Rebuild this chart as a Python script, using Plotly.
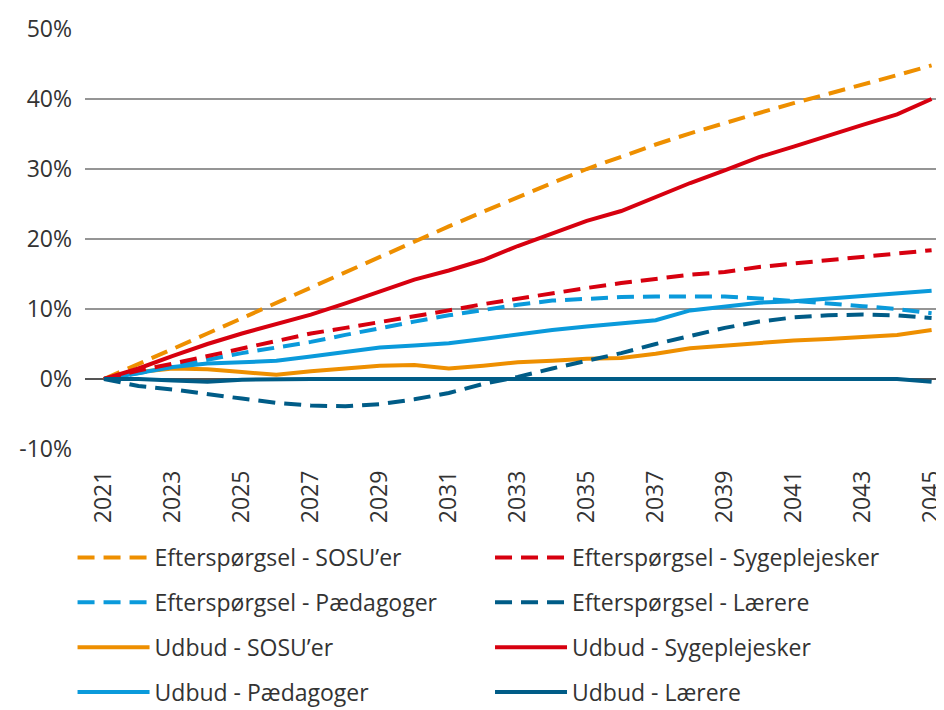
import plotly.graph_objects as go

years = list(range(2021, 2046))

eft_sosu = [0, 2.1, 4.3, 6.5, 8.7, 10.8, 13.0, 15.2, 17.4, 19.6, 21.8, 23.9, 26.0, 28.0, 30.0,
            31.8, 33.5, 35.1, 36.6, 38.0, 39.4, 40.7, 42.0, 43.4, 44.8]
eft_syg = [0, 1.2, 2.2, 3.3, 4.4, 5.5, 6.5, 7.3, 8.1, 9.0, 9.8, 10.7, 11.5, 12.2, 13.0,
           13.7, 14.3, 14.9, 15.3, 16.0, 16.5, 17.0, 17.5, 18.0, 18.4]
eft_paed = [0, 0.8, 1.8, 2.8, 3.7, 4.5, 5.3, 6.3, 7.3, 8.2, 9.1, 9.9, 10.6, 11.2, 11.5,
            11.7, 11.8, 11.8, 11.8, 11.5, 11.2, 10.8, 10.4, 10.0, 9.4]
eft_laer = [0, -1.0, -1.5, -2.2, -2.8, -3.4, -3.8, -3.9, -3.6, -2.9, -2.0, -0.7, 0.3, 1.5, 2.6,
            3.7, 5.0, 6.2, 7.3, 8.2, 8.8, 9.1, 9.2, 9.1, 8.7]
udb_sosu = [0, 1.0, 1.5, 1.4, 1.0, 0.6, 1.1, 1.5, 1.9, 2.0, 1.5, 1.9, 2.4, 2.6, 2.9,
            3.0, 3.6, 4.4, 4.8, 5.2, 5.5, 5.7, 6.0, 6.3, 7.0]
udb_syg = [0, 1.5, 3.3, 5.0, 6.5, 7.8, 9.2, 10.8, 12.5, 14.2, 15.5, 17.0, 19.0, 20.8, 22.6,
           24.0, 26.0, 28.0, 29.8, 31.7, 33.2, 34.8, 36.3, 37.8, 40.0]
udb_paed = [0, 0.9, 1.7, 2.2, 2.4, 2.6, 3.2, 3.9, 4.5, 4.8, 5.1, 5.7, 6.4, 7.0, 7.5,
            8.0, 8.4, 9.8, 10.4, 10.9, 11.1, 11.5, 11.8, 12.2, 12.6]
udb_laer = [0, 0, -0.2, -0.4, -0.1, 0, 0, 0, 0, 0, 0, 0, 0, 0, 0,
            0, 0, 0, 0, 0, 0, 0, 0, 0, -0.4]

y_tick_vals = [-10, 0, 10, 20, 30, 40, 50]
y_tick_text = ["-10%", "0%", "10%", "20%", "30%", "40%", "50%"]

ORANGE = "#EE8F00"
RED = "#D7000F"
LBLUE = "#0A9ADB"
DBLUE = "#005C87"
DASH = "17px,9px"

series = [
    ("Efterspørgsel - SOSU’er", eft_sosu, ORANGE, DASH, "legend"),
    ("Efterspørgsel - Pædagoger", eft_paed, LBLUE, DASH, "legend"),
    ("Udbud - SOSU’er", udb_sosu, ORANGE, "solid", "legend"),
    ("Udbud - Pædagoger", udb_paed, LBLUE, "solid", "legend"),
    ("Efterspørgsel - Sygeplejesker", eft_syg, RED, DASH, "legend2"),
    ("Efterspørgsel - Lærere", eft_laer, DBLUE, DASH, "legend2"),
    ("Udbud - Sygeplejesker", udb_syg, RED, "solid", "legend2"),
    ("Udbud - Lærere", udb_laer, DBLUE, "solid", "legend2"),
]

fig = go.Figure()
for i, (name, vals, col, dash, leg) in enumerate(series):
    fig.add_trace(go.Scatter(
        x=years, y=vals, name=name, mode="lines",
        line=dict(color=col, width=4, dash=dash),
        legend=leg, legendgroup=f"g{i}",
    ))

FONT = "Open Sans"
TXT = "#333333"
FS = 23
legend_common = dict(
    orientation="v", traceorder="grouped", tracegroupgap=12,
    itemwidth=72, font=dict(family=FONT, size=FS, color=TXT),
    bgcolor="rgba(0,0,0,0)", yanchor="top", xanchor="left",
    itemclick=False, itemdoubleclick=False,
)

# page body has an 8px margin, so the figure is sized/offset to compensate
fig.update_layout(
    width=936, height=702,
    margin=dict(l=77, r=0, t=21, b=261, autoexpand=False),
    paper_bgcolor="white", plot_bgcolor="white",
    font=dict(family=FONT, size=FS, color=TXT),
    showlegend=True,
    legend=dict(x=-0.0145, y=-0.207, **legend_common),
    legend2=dict(x=0.4715, y=-0.207, **legend_common),
    xaxis=dict(
        range=[2020.45, 2045.36], tick0=2021, dtick=2, tickangle=-90,
        showgrid=False, zeroline=False, showline=False, ticks="",
        automargin=False, ticklabeloverflow="allow", ticklabelstandoff=16,
        tickfont=dict(family=FONT, size=FS, color=TXT),
    ),
    yaxis=dict(
        range=[-10, 50], tickvals=y_tick_vals, ticktext=y_tick_text,
        showgrid=True, gridcolor="#959595", gridwidth=1.5,
        zeroline=True, zerolinecolor="#555555", zerolinewidth=1.5,
        showline=False, ticks="", ticklabelstandoff=12, automargin=False,
        tickfont=dict(family=FONT, size=FS, color=TXT),
    ),
)

fig.write_html("out.html")
